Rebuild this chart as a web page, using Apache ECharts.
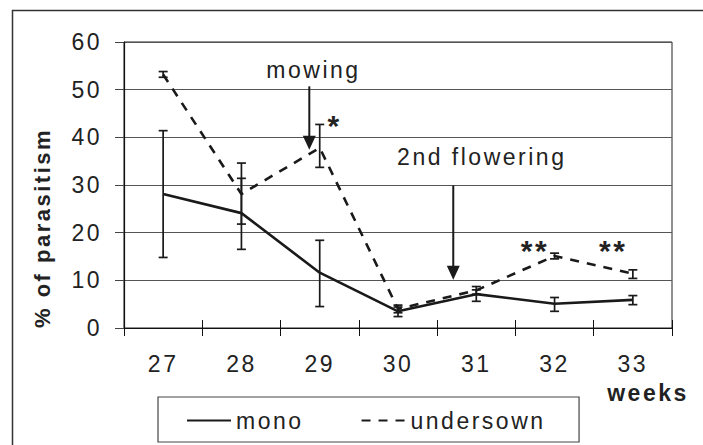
<!DOCTYPE html>
<html>
<head>
<meta charset="utf-8">
<script src="https://cdn.jsdelivr.net/npm/echarts@6/dist/echarts.min.js"></script>
<style>
  html, body { margin: 0; padding: 0; background: #fff; }
  #main { width: 703px; height: 445px; }
  #main text { letter-spacing: 2.5px; }
</style>
</head>
<body>
<div id="main"></div>
<script>
// ---- data ----
const categories = ['27', '28', '29', '30', '31', '32', '33'];
const mono      = [28.1, 24.1, 11.6, 3.5, 7.1, 5.1, 5.9];
const monoLow   = [14.8, 16.5,  4.5, 2.4, 5.6, 3.5, 4.9];
const monoHigh  = [41.4, 34.6, 18.4, 4.4, 8.0, 6.4, 6.8];
const under     = [53.2, 28.1, 37.8, 4.0, 7.9, 15.1, 11.4];
const underLow  = [52.6, 21.8, 33.7, 3.2, 7.1, 14.5, 10.4];
const underHigh = [53.8, 31.4, 42.7, 4.8, 8.7, 15.7, 12.2];
const yMin = 0, yMax = 60, yStep = 10;

// annotations anchored in data units (category index, % value)
const noteTexts = ['mowing', '2nd flowering', '*', '**', '**'];
const noteX     = [1.92, 4.07, 2.19, 4.75, 5.75];
const noteY     = [54.2, 35.9, 42.4, 16.3, 16.3];
const arrowX    = [1.867, 3.706];
const arrowFrom = [50.7, 29.9];
const arrowTo   = [37.4, 10.1];

const FONT = "'Liberation Sans', Arial, sans-serif";
const INK = '#1a1a1a';

function errSeries(name, low, high) {
  return {
    name: name,
    type: 'custom',
    xAxisIndex: 0,
    z: 4,
    data: categories.map((c, i) => [i, low[i], high[i]]),
    renderItem: function (params, api) {
      const i = api.value(0);
      const lo = api.coord([i, api.value(1)]);
      const hi = api.coord([i, api.value(2)]);
      const w = 4.5;
      const st = { stroke: INK, lineWidth: 1.7 };
      return {
        type: 'group',
        children: [
          { type: 'line', shape: { x1: lo[0], y1: lo[1], x2: hi[0], y2: hi[1] }, style: st },
          { type: 'line', shape: { x1: lo[0] - w, y1: lo[1], x2: lo[0] + w, y2: lo[1] }, style: st },
          { type: 'line', shape: { x1: hi[0] - w, y1: hi[1], x2: hi[0] + w, y2: hi[1] }, style: st }
        ]
      };
    }
  };
}

const chart = echarts.init(document.getElementById('main'), null, { renderer: 'svg' });

const option = {
  animation: false,
  backgroundColor: '#fff',
  textStyle: { fontFamily: FONT },
  grid: { left: 124, top: 42, right: 31, bottom: 117, show: true, borderColor: '#222', borderWidth: 1 },
  legend: {
    data: ['mono', 'undersown'],
    left: 158, top: 397,
    orient: 'horizontal',
    itemWidth: 44, itemHeight: 14, itemGap: 67,
    padding: [12, 56, 10, 28],
    borderColor: '#444', borderWidth: 1.2,
    itemStyle: { color: 'transparent', borderWidth: 0, opacity: 0 },
    textStyle: { fontSize: 23, color: '#222', fontFamily: FONT }
  },
  xAxis: [
    {
      type: 'category', data: categories, boundaryGap: true,
      axisLine: { lineStyle: { color: '#111', width: 1.2 } },
      axisTick: { show: true, length: 8, lineStyle: { color: '#111', width: 1 } },
      axisLabel: { fontSize: 23, color: '#222', margin: 24, fontFamily: FONT },
      splitLine: { show: false }
    },
    {
      type: 'category', data: categories, boundaryGap: true, position: 'bottom',
      axisLine: { show: false },
      axisTick: { show: true, inside: true, length: 8, lineStyle: { color: '#111', width: 1 } },
      axisLabel: { show: false },
      splitLine: { show: false }
    }
  ],
  yAxis: {
    type: 'value', min: yMin, max: yMax, interval: yStep,
    axisLine: { show: true, lineStyle: { color: '#111', width: 1.2 } },
    axisTick: { show: true, length: 9, lineStyle: { color: '#444' } },
    axisLabel: { fontSize: 23, color: '#222', margin: 22, fontFamily: FONT },
    splitLine: { show: true, lineStyle: { color: '#555', width: 1 } }
  },
  series: [
    {
      name: 'mono', type: 'line', data: mono, xAxisIndex: 0,
      symbol: 'none', color: INK, z: 3,
      lineStyle: { color: INK, width: 2.6 }
    },
    {
      name: 'undersown', type: 'line', data: under, xAxisIndex: 0,
      symbol: 'none', color: INK, z: 3,
      lineStyle: { color: INK, width: 2.6, type: [9, 8] }
    },
    errSeries('mono-err', monoLow, monoHigh),
    errSeries('undersown-err', underLow, underHigh)
  ]
};

chart.setOption(option);

// category axes round fractional indices, so interpolate between neighbouring categories
function px(x, y) {
  const i0 = Math.floor(x), f = x - i0;
  const a = chart.convertToPixel({ xAxisIndex: 0, yAxisIndex: 0 }, [i0, y]);
  const b = chart.convertToPixel({ xAxisIndex: 0, yAxisIndex: 0 }, [i0 + 1, y]);
  return [a[0] + (b[0] - a[0]) * f, a[1]];
}

const graphics = [];
// outer frame of the figure
graphics.push({
  type: 'rect', silent: true, z: -10,
  shape: { x: 12.5, y: 10.5, width: 740, height: 480 },
  style: { fill: 'none', stroke: '#333', lineWidth: 1.5 }
});
// axis titles
graphics.push({
  type: 'text', x: 42, y: 228, rotation: Math.PI / 2,
  style: { text: '% of parasitism', fontSize: 22, fontWeight: 'bold', fontFamily: FONT, fill: '#222', align: 'center', verticalAlign: 'middle' }
});
graphics.push({
  type: 'text', x: 648, y: 393,
  style: { text: 'weeks', fontSize: 23, fontWeight: 'bold', fontFamily: FONT, fill: '#222', align: 'center', verticalAlign: 'middle' }
});
// annotation texts
noteTexts.forEach((t, i) => {
  const p = px(noteX[i], noteY[i]);
  const star = t.indexOf('*') === 0;
  graphics.push({
    type: 'text', x: p[0], y: p[1],
    style: {
      text: t, fontSize: star ? 30 : 23, fontWeight: star ? 'bold' : 'normal',
      fontFamily: FONT, fill: '#222', align: 'center', verticalAlign: 'middle'
    }
  });
});
// arrows
arrowX.forEach((x, i) => {
  const a = px(x, arrowFrom[i]);
  const b = px(x, arrowTo[i]);
  const hh = 14, hw = 6.5;
  graphics.push({
    type: 'line', shape: { x1: a[0], y1: a[1], x2: b[0], y2: b[1] - hh + 1 },
    style: { stroke: INK, lineWidth: 2 }
  });
  graphics.push({
    type: 'polygon', shape: { points: [[b[0] - hw, b[1] - hh], [b[0] + hw, b[1] - hh], [b[0], b[1]]] },
    style: { fill: INK }
  });
});

chart.setOption({ graphic: graphics });
</script>
</body>
</html>
